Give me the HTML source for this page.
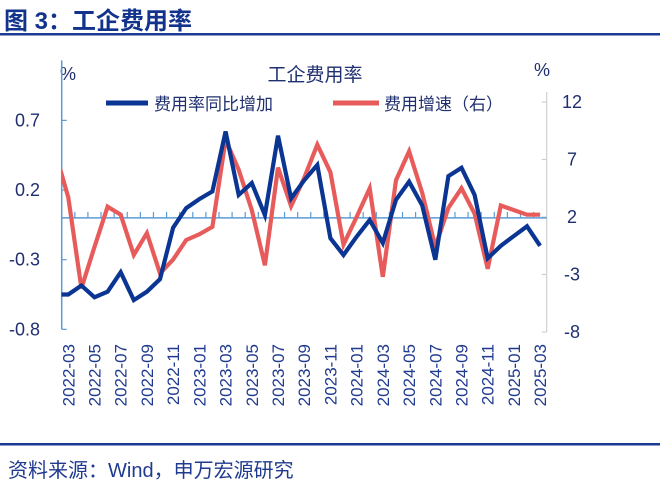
<!DOCTYPE html>
<html><head><meta charset="utf-8">
<style>
body{margin:0;background:#fff;}
svg{display:block;}
text{font-family:"Liberation Sans","Noto Sans CJK SC",sans-serif;}
</style></head>
<body>
<svg id="chart" width="660" height="484" viewBox="0 0 660 484">
  <text x="4" y="29" font-size="24" font-weight="bold" fill="#12338c">图 3：工企费用率</text>
  <rect x="0" y="33" width="660" height="2.5" fill="#1a3a94"/>
  <text x="315" y="81" font-size="19" fill="#1f2f6f" text-anchor="middle">工企费用率</text>
  <text x="60" y="80" font-size="18" fill="#1f2f6f">%</text>
  <text x="534" y="76" font-size="18" fill="#1f2f6f">%</text>
  <g>
    <line x1="106" y1="103" x2="148" y2="103" stroke="#0b3593" stroke-width="5"/>
    <text x="154" y="110" font-size="17" fill="#1f2f6f">费用率同比增加</text>
    <line x1="333" y1="103" x2="379" y2="103" stroke="#e85b5b" stroke-width="5"/>
    <text x="384" y="110" font-size="17" fill="#1f2f6f">费用增速（右）</text>
  </g>
  <g id="axes"></g>
  <g id="series" clip-path="url(#plotclip)"></g>
  <defs><clipPath id="plotclip"><rect x="61.5" y="60" width="485" height="290"/></clipPath></defs>
  <rect x="0" y="443" width="660" height="2.5" fill="#1a3a94"/>
  <text x="8" y="477" font-size="20" fill="#1f3a8f">资料来源：Wind，申万宏源研究</text>
</svg>
<script>
const categories = ["2022-02","2022-03","2022-04","2022-05","2022-06","2022-07","2022-08","2022-09","2022-10","2022-11","2022-12","2023-01","2023-02","2023-03","2023-04","2023-05","2023-06","2023-07","2023-08","2023-09","2023-10","2023-11","2023-12","2024-01","2024-02","2024-03","2024-04","2024-05","2024-06","2024-07","2024-08","2024-09","2024-10","2024-11","2024-12","2025-01","2025-02","2025-03"];
const rateYoY = [-0.55,-0.55,-0.485,-0.57,-0.53,-0.39,-0.59,-0.53,-0.44,-0.07,0.07,0.135,0.19,0.62,0.165,0.25,0.02,0.59,0.14,0.27,0.38,-0.146,-0.266,-0.135,-0.015,-0.18,0.13,0.26,0.09,-0.3,0.3,0.36,0.165,-0.29,-0.2,-0.13,-0.06,-0.2];
const expenseGrowth = [7.7,3.7,-4.2,-0.6,2.9,2.2,-1.3,0.6,-2.9,-1.7,0,0.5,1.15,8.7,6.1,2.6,-2.2,6.3,2.95,5.4,8.3,5.9,-0.4,2.0,4.5,-3.2,5.2,7.7,4.1,-0.6,2.8,4.5,2.3,-2.5,3.0,2.6,2.2,2.2];
const leftTicks = [0.7,0.2,-0.3,-0.8];
const rightTicks = [12,7,2,-3,-8];
const xLabels = ["2022-03","2022-05","2022-07","2022-09","2022-11","2023-01","2023-03","2023-05","2023-07","2023-09","2023-11","2024-01","2024-03","2024-05","2024-07","2024-09","2024-11","2025-01","2025-03"];

const NS="http://www.w3.org/2000/svg";
const X0=61.7, X1=546.7, nBands=37;
const band=(X1-X0)/nBands;
function x(i){return X0+band*(i-1+0.5);}
function yL(v){return 217.9-(v)*139.3;}
function yR(v){return 217-(v-2)*11.5;}
function mk(tag,attrs,parent){const e=document.createElementNS(NS,tag);for(const k in attrs)e.setAttribute(k,attrs[k]);parent.appendChild(e);return e;}
const axes=document.getElementById('axes');
const series=document.getElementById('series');

let la=mk('line',{x1:X0,y1:yL(0.7)-60,x2:X0,y2:yL(-0.8),stroke:'#5b9bd5','stroke-width':1.5},axes);


leftTicks.forEach(v=>{
  const t=mk('line',{x1:X0,y1:yL(v),x2:X0+5,y2:yL(v),stroke:'#5b9bd5','stroke-width':1.2},axes);
  
  
  const l=mk('text',{x:40,y:yL(v)+6,'font-size':18,fill:'#1f2f6f','text-anchor':'end'},axes);
  l.textContent=v.toFixed(1);
  
  
});
let ra=mk('line',{x1:X1,y1:yR(12)-10,x2:X1,y2:yR(-8),stroke:'#d0d0d0','stroke-width':1.2},axes);


rightTicks.forEach(v=>{
  const t=mk('line',{x1:X1-5,y1:yR(v),x2:X1,y2:yR(v),stroke:'#d0d0d0','stroke-width':1.2},axes);
  
  
  const l=mk('text',{x:572,y:yR(v)+6,'font-size':18,fill:'#1f2f6f','text-anchor':'middle'},axes);
  l.textContent=v;
  
  
});
let xa=mk('line',{x1:X0,y1:yL(0),x2:X1,y2:yL(0),stroke:'#5b9bd5','stroke-width':1.5},axes);


for(let k=1;k<nBands;k++){
  const tx=X0+band*k;
  const t=mk('line',{x1:tx,y1:yL(0)-6,x2:tx,y2:yL(0),stroke:'#5b9bd5','stroke-width':1.2},axes);
  
  
}
xLabels.forEach(lab=>{
  const i=categories.indexOf(lab);
  const cx=x(i)+6;
  const l=mk('text',{x:0,y:0,'font-size':17,fill:'#1f3a8f','text-anchor':'end',transform:`translate(${cx},344) rotate(-90)`},axes);
  l.textContent=lab;
  
  
});
const pr=expenseGrowth.map((v,i)=>x(i).toFixed(1)+','+yR(v).toFixed(1)).join(' ');
const red=mk('polyline',{points:pr,fill:'none',stroke:'#e85b5b','stroke-width':4.2,'stroke-linejoin':'miter'},series);


const pb=rateYoY.map((v,i)=>x(i).toFixed(1)+','+yL(v).toFixed(1)).join(' ');
const blue=mk('polyline',{points:pb,fill:'none',stroke:'#0b3593','stroke-width':4.2,'stroke-linejoin':'miter'},series);


</script>
</body></html>
